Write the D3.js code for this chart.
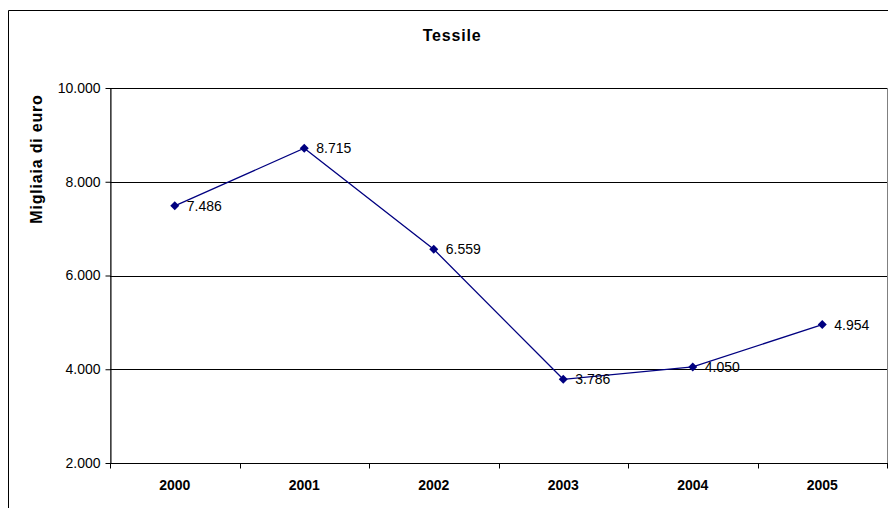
<!DOCTYPE html>
<html>
<head>
<meta charset="utf-8">
<script src="https://cdn.jsdelivr.net/npm/d3@7"></script>
<style>
  html, body { margin: 0; padding: 0; background: #fff; }
  svg { display: block; font-family: "Liberation Sans", Arial, sans-serif; }
</style>
</head>
<body>
<svg id="chart" width="890" height="508"></svg>
<script>
// Textile sector, thousands of euro per year
const years = ["2000", "2001", "2002", "2003", "2004", "2005"];
const values = [7486, 8715, 6559, 3786, 4050, 4954];
const yTicks = [2000, 4000, 6000, 8000, 10000];
const chartTitle = "Tessile";
const yTitle = "Migliaia di euro";

const svg = d3.select("#chart");
const plot = { left: 110, right: 887, top: 88, bottom: 463 };

const x = d3.scaleBand().domain(years).range([plot.left, plot.right]).padding(0);
const y = d3.scaleLinear().domain([2000, 10000]).range([plot.bottom, plot.top]);
const fmt = v => d3.format(",")(v).replace(/,/g, ".");

// outer chart frame (right and bottom edges fall outside the view)
svg.append("path")
  .attr("d", "M8.5,512V10.5H888")
  .attr("fill", "none").attr("stroke", "#000").attr("stroke-width", 1);

// plot area frame
svg.append("rect")
  .attr("x", plot.left + 0.5).attr("y", plot.top + 0.5)
  .attr("width", plot.right - plot.left).attr("height", plot.bottom - plot.top)
  .attr("fill", "#fff").attr("stroke", "#808080").attr("stroke-width", 1);

// horizontal gridlines
svg.append("g").selectAll("line")
  .data(yTicks.filter(d => d > 2000))
  .join("line")
  .attr("x1", plot.left).attr("x2", plot.right)
  .attr("y1", d => Math.round(y(d)) + 0.5).attr("y2", d => Math.round(y(d)) + 0.5)
  .attr("stroke", "#000").attr("stroke-width", 1);

// y axis
const yAxis = svg.append("g")
  .attr("transform", `translate(${plot.left + 0.5},0)`)
  .call(d3.axisLeft(y).tickValues(yTicks).tickFormat(fmt).tickSize(5).tickSizeOuter(0));
yAxis.select(".domain").attr("stroke", "#000");
yAxis.selectAll(".tick line").attr("stroke", "#000");
yAxis.selectAll(".tick text")
  .attr("font-family", "Liberation Sans, Arial, sans-serif")
  .attr("font-size", 14).attr("fill", "#000").attr("x", -10);

// x axis with ticks on category boundaries
const xAxisG = svg.append("g").attr("transform", `translate(0,${plot.bottom + 0.5})`);
xAxisG.append("line")
  .attr("x1", plot.left).attr("x2", plot.right + 1)
  .attr("stroke", "#000");
const bounds = years.map(d => x(d)).concat([plot.right]);
xAxisG.selectAll("line.tk").data(bounds).join("line")
  .attr("class", "tk")
  .attr("x1", d => Math.round(d) + 0.5).attr("x2", d => Math.round(d) + 0.5)
  .attr("y1", 0).attr("y2", 5).attr("stroke", "#000");
xAxisG.selectAll("text").data(years).join("text")
  .attr("x", d => x(d) + x.bandwidth() / 2)
  .attr("y", 26)
  .attr("text-anchor", "middle")
  .attr("font-size", 14).attr("font-weight", "bold")
  .text(d => d);

// series line
const cx = (d, i) => x(years[i]) + x.bandwidth() / 2;
svg.append("path")
  .datum(values)
  .attr("fill", "none").attr("stroke", "#000080").attr("stroke-width", 1.3)
  .attr("d", d3.line().x(cx).y(d => y(d)));

// diamond markers
svg.append("g").selectAll("path")
  .data(values)
  .join("path")
  .attr("transform", (d, i) => `translate(${cx(d, i)},${y(d)})`)
  .attr("d", "M0,-4.5L4.5,0L0,4.5L-4.5,0Z")
  .attr("fill", "#000080");

// value labels
svg.append("g").selectAll("text")
  .data(values)
  .join("text")
  .attr("x", (d, i) => cx(d, i) + 12)
  .attr("y", d => y(d) + 5)
  .attr("font-size", 14).attr("fill", "#000")
  .text(fmt);

// titles
svg.append("text")
  .attr("x", 452).attr("y", 41)
  .attr("text-anchor", "middle")
  .attr("font-size", 16).attr("font-weight", "bold")
  .attr("letter-spacing", 0.8)
  .text(chartTitle);

svg.append("text")
  .attr("transform", "translate(42,159) rotate(-90)")
  .attr("text-anchor", "middle")
  .attr("font-size", 16).attr("font-weight", "bold")
  .attr("letter-spacing", 0.8)
  .text(yTitle);
</script>
</body>
</html>
